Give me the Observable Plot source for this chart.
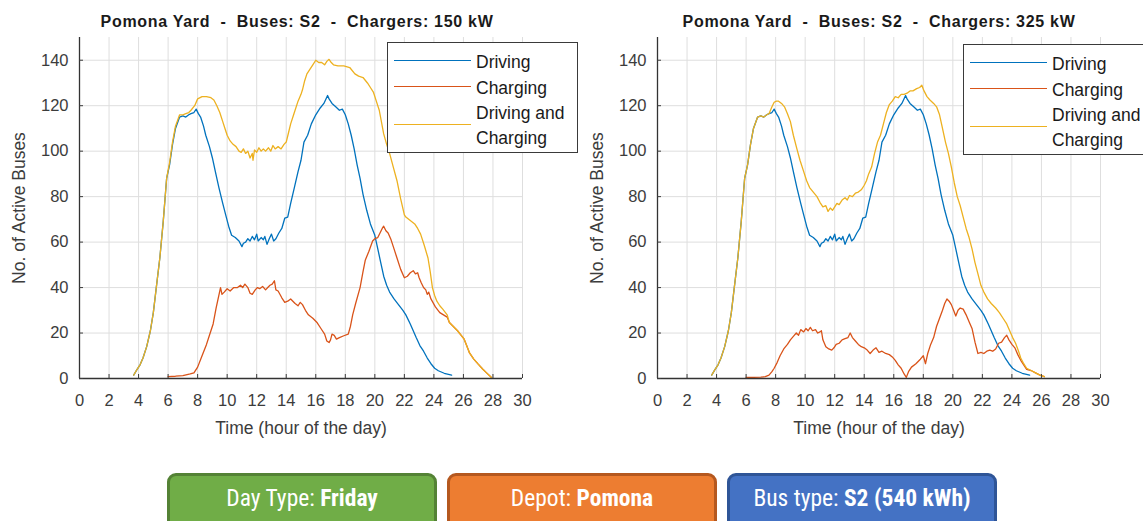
<!DOCTYPE html>
<html>
<head>
<meta charset="utf-8">
<script src="https://cdn.jsdelivr.net/npm/d3@7"></script>
<script src="https://cdn.jsdelivr.net/npm/@observablehq/plot@0.6"></script>
<style>
  html, body { margin: 0; padding: 0; background: #fff; }
  #root { position: relative; width: 1143px; height: 521px; overflow: hidden; font-family: "Liberation Sans", Arial, sans-serif; }
  .title { position: absolute; top: 12px; font-weight: bold; font-size: 16px; letter-spacing: 0.7px; color: #1a1a1a; white-space: pre; transform: translateX(-50%); line-height: 20px; }
  .chart { position: absolute; top: 30px; }
  .legend { position: absolute; background: #fff; border: 1.5px solid #3a3a3a; box-sizing: border-box; font-size: 17.5px; color: #1a1a1a; }
  .legend .sw { position: absolute; height: 0; border-top: 1.6px solid; }
  .legend .lab { position: absolute; line-height: 20px; white-space: nowrap; }
  .btn { position: absolute; top: 473px; width: 270px; height: 60px; border-radius: 9px; box-sizing: border-box; border: 3px solid; color: #fff;
         font-family: "Liberation Sans Narrow", "Roboto Condensed", "DejaVu Sans Condensed", "Roboto", sans-serif; font-stretch: condensed; font-size: 23.5px; text-align: center; line-height: 44px; }
  .btn b { font-weight: bold; }
</style>
</head>
<body>
<div id="root"></div>
<script>
// ---------------- data (hour of day, number of active buses) ----------------
const xTicks = [0,2,4,6,8,10,12,14,16,18,20,22,24,26,28,30];
const yTicks = [0,20,40,60,80,100,120,140];
const seriesNames = ["Driving", "Charging", "Driving and\nCharging"];
const seriesColors = ["#0072BD", "#D95319", "#EDB120"];
const titles = ["Pomona Yard  -  Buses: S2  -  Chargers: 150 kW", "Pomona Yard  -  Buses: S2  -  Chargers: 325 kW"];
const buttonLabels = [["Day Type: ", "Friday"], ["Depot: ", "Pomona"], ["Bus type: ", "S2 (540 kWh)"]];

// Driving (same schedule in both panels)
const driving = [
[3.67,1.5],[3.9,4],[4.1,6],[4.3,9],[4.55,14],[4.8,21],[5.0,29],[5.2,40],[5.44,53],[5.67,69],[5.9,88],[6.1,94],[6.3,103],[6.5,110],[6.78,115],
[7.0,115.5],[7.2,115],[7.4,116],[7.55,116.5],[7.75,117],[7.9,118.5],[8.05,116.5],[8.2,115],[8.4,111],[8.55,107],[8.8,102],[9.0,97],[9.2,91],
[9.44,84],[9.7,77],[9.9,72],[10.1,67],[10.3,63],[10.55,62],[10.8,60.5],[11.0,58],[11.1,59.5],[11.25,60],[11.4,61.5],[11.55,60.5],[11.7,62.5],
[11.85,61],[12.0,63.5],[12.1,60.5],[12.3,62],[12.45,61],[12.55,62.5],[12.7,59],[12.85,61.5],[13.0,63.5],[13.15,60.5],[13.3,61.5],[13.5,64],
[13.7,66],[13.9,70.5],[14.1,71],[14.3,77],[14.55,84],[14.8,91],[15.0,96],[15.2,104],[15.45,107],[15.7,112],[16.0,116],[16.3,119],[16.55,121],
[16.8,124.5],[16.9,123],[17.1,121],[17.35,119.5],[17.6,118],[17.8,118.5],[18.0,116],[18.2,112],[18.4,107],[18.6,101],[18.8,94],[19.0,88],
[19.2,81],[19.45,74],[19.7,68],[20.0,63],[20.2,57],[20.4,51],[20.6,45],[20.8,41],[21.0,38],[21.3,35],[21.6,32.5],[21.9,30],[22.1,28],[22.4,24],
[22.6,21],[22.8,18],[23.05,14.5],[23.3,12],[23.55,9],[23.8,6.5],[24.05,4.5],[24.3,3.4],[24.7,2.3],[25.2,1.5]
];

// Charging, 150 kW chargers
const charging150 = [
[6.0,0.8],[6.5,1],[7.0,1.3],[7.5,2],[7.75,2.5],[8.0,5],[8.3,10],[8.6,15],[8.8,19],[9.05,24],[9.25,31],[9.4,35.5],[9.55,40],[9.65,37],
[9.8,38],[10.0,39.5],[10.2,38.5],[10.45,40],[10.7,40],[10.9,41],[11.05,40],[11.2,41.5],[11.4,40],[11.55,37.5],[11.7,37],[11.9,39],[12.05,40],
[12.2,39.5],[12.4,40.5],[12.6,39],[12.75,40],[12.9,41],[13.05,41.5],[13.2,43],[13.3,39],[13.45,38.5],[13.7,35.5],[13.9,33.5],[14.1,34],
[14.3,35],[14.45,34],[14.6,33],[14.8,32],[14.95,33.5],[15.1,32.5],[15.3,30],[15.5,28],[15.8,26.5],[16.1,24.5],[16.35,22],[16.6,19.5],
[16.75,16.5],[16.9,15.8],[17.0,17],[17.1,19.5],[17.25,19],[17.4,17.3],[17.6,18],[17.9,18.8],[18.2,19.5],[18.35,23],[18.5,28],[18.7,33],
[19.0,40],[19.2,47],[19.35,52],[19.6,56],[19.85,60.5],[20.0,61.5],[20.2,62],[20.35,64],[20.5,66],[20.6,67],[20.75,65],[20.9,64],[21.1,61],
[21.3,57],[21.5,53],[21.75,48],[22.0,44.3],[22.2,45],[22.4,46.5],[22.6,47.4],[22.75,46],[22.9,46.5],[23.0,44.3],[23.15,42],[23.3,40],
[23.45,39],[23.55,37],[23.65,38],[23.8,35],[24.1,31.5],[24.4,29],[24.65,28],[24.9,27],[25.05,24.6],[25.3,23],[25.6,21],[25.85,19],
[26.05,17.3],[26.25,14],[26.4,11.4],[26.7,8.5],[27.0,6.3],[27.3,4.2],[27.55,2.6],[27.9,0.4]
];

// Driving and Charging, 150 kW chargers
const total150 = [
[3.67,1.5],[3.9,4],[4.1,6],[4.3,9],[4.55,14],[4.8,21],[5.0,29],[5.2,40],[5.44,53],[5.67,69],[5.9,88],[6.1,95],[6.3,104],[6.5,111],[6.78,116],
[7.0,116],[7.2,116.5],[7.4,117],[7.55,118],[7.8,120],[8.0,123],[8.3,124],[8.6,124],[8.9,123.5],[9.1,122.5],[9.3,120],[9.5,117],[9.7,113],
[9.85,110],[10.0,107],[10.2,104.5],[10.4,103],[10.6,102],[10.8,100],[10.95,99.5],[11.1,101],[11.25,99],[11.4,100],[11.55,97],[11.7,99],
[11.75,96],[11.85,100.5],[12.0,99.5],[12.15,101.5],[12.3,100],[12.45,101],[12.6,100],[12.8,101.5],[12.95,100],[13.1,102.5],[13.25,101],
[13.45,102],[13.65,101],[13.85,103],[14.0,104],[14.15,108],[14.3,112],[14.5,116],[14.8,122],[15.0,125],[15.1,127],[15.25,131],[15.4,134],
[15.6,136],[15.8,138],[16.0,140],[16.2,139],[16.4,139],[16.6,138],[16.75,139.5],[16.9,140.4],[17.05,139],[17.2,138],[17.5,137.5],
[17.9,137.5],[18.3,136.8],[18.65,134],[18.9,133],[19.2,132.4],[19.5,130],[19.7,128],[19.9,126],[20.1,122],[20.3,118],[20.6,107.6],
[20.8,103],[21.0,99],[21.25,93],[21.5,87],[21.75,79],[22.0,72],[22.1,71],[22.4,69.5],[22.7,68],[22.9,66],[23.1,63.5],[23.35,58.5],[23.6,53],
[23.75,47],[23.9,40],[24.05,36.5],[24.2,34],[24.4,32],[24.6,30.5],[24.9,28],[25.05,24.6],[25.3,23],[25.6,21],[25.85,19],[26.05,17.3],
[26.25,14],[26.4,11.4],[26.7,8.5],[27.0,6.3],[27.3,4.2],[27.55,2.6],[27.9,0.4]
];

// Charging, 325 kW chargers
const charging325 = [
[6.0,0.5],[6.5,0.5],[7.0,0.6],[7.3,0.8],[7.55,1.5],[7.75,3],[7.9,4.5],[8.1,7],[8.3,10],[8.55,13],[8.8,15],[9.0,17],[9.2,18.5],[9.4,20],
[9.55,19],[9.7,21.5],[9.9,20.5],[10.05,22],[10.2,21],[10.35,22.5],[10.5,21],[10.7,21.5],[10.85,20],[11.0,20.5],[11.1,21],[11.2,17],
[11.4,14],[11.6,13],[11.8,12.5],[11.95,13.5],[12.1,15],[12.3,15.5],[12.5,17],[12.7,17.5],[12.9,18],[13.05,20],[13.2,18],[13.4,16.5],
[13.6,15],[13.8,14],[14.0,13.5],[14.2,12.5],[14.4,11],[14.6,12.5],[14.8,13.5],[15.0,11.5],[15.2,12],[15.45,11],[15.7,10.5],[15.9,9.5],
[16.1,8],[16.3,6],[16.5,4.5],[16.7,2],[16.85,0.5],[17.0,3],[17.2,5],[17.5,6.5],[17.8,8.5],[18.0,10],[18.15,6.5],[18.3,11],[18.5,15],
[18.7,18],[18.9,23],[19.1,26.5],[19.3,30],[19.45,33],[19.6,35],[19.75,34],[19.9,32.5],[20.05,30],[20.2,27.5],[20.35,30],[20.5,31],
[20.7,30.5],[20.9,28],[21.1,25],[21.3,22],[21.5,16],[21.7,11],[21.9,11.5],[22.1,11],[22.3,12],[22.5,12.5],[22.7,12],[22.9,13],[23.1,15.5],
[23.3,16],[23.5,18],[23.65,19],[23.8,17],[24.0,15],[24.2,13.5],[24.4,10.5],[24.6,8],[24.8,6],[25.0,4],[25.3,3.5],[25.6,2.5],[25.9,1.5],[26.2,0.8]
];

// Driving and Charging, 325 kW chargers
const total325 = [
[3.67,1.5],[3.9,4],[4.1,6],[4.3,9],[4.55,14],[4.8,21],[5.0,29],[5.2,40],[5.44,53],[5.67,69],[5.9,88],[6.1,94],[6.3,103],[6.5,110],[6.78,115],
[7.0,115.5],[7.2,115],[7.4,116],[7.55,116.5],[7.75,119.5],[7.9,121.5],[8.05,122],[8.2,122],[8.4,121],[8.6,119.5],[8.8,116.5],[9.0,113],
[9.2,107],[9.44,101],[9.65,96],[9.9,91],[10.1,87],[10.3,84],[10.55,82],[10.8,80],[11.0,77.5],[11.2,75.5],[11.4,76],[11.55,73.5],[11.7,75],
[11.85,74],[12.0,75.5],[12.15,77],[12.3,76.5],[12.5,78.5],[12.7,79.5],[12.85,78.5],[13.0,80.5],[13.2,80],[13.4,81.5],[13.6,82],[13.8,83],
[14.0,85],[14.15,87],[14.3,90],[14.5,93],[14.7,99],[14.9,104],[15.1,107],[15.3,112],[15.5,117],[15.7,120.5],[15.9,122],[16.1,124],
[16.3,123.5],[16.5,125],[16.7,125],[16.9,125.5],[17.1,126.5],[17.3,126.5],[17.55,127.5],[17.75,128],[17.9,129],[18.05,126.5],[18.25,124],
[18.45,122.5],[18.7,121],[18.9,119.5],[19.1,116],[19.3,110],[19.5,104],[19.7,99],[19.9,93],[20.1,86],[20.3,80],[20.5,76],[20.7,71],
[20.9,66],[21.1,62],[21.3,57],[21.5,51],[21.7,46],[21.9,41],[22.1,38],[22.35,35],[22.6,33],[22.9,31],[23.15,29],[23.4,26.5],[23.65,24],
[23.85,21],[24.05,18],[24.25,15.5],[24.45,12],[24.6,9],[24.8,6.5],[25.0,4.5],[25.3,3.5],[25.6,2.5],[25.9,1.5],[26.2,0.8]
];

// ---------------- drawing ----------------
const root = document.getElementById("root");

function chart(charging, total) {
  const rows = [
    ...driving.map(([h, v]) => ({h, v, s: seriesNames[0]})),
    ...charging.map(([h, v]) => ({h, v, s: seriesNames[1]})),
    ...total.map(([h, v]) => ({h, v, s: seriesNames[2]}))
  ];
  return Plot.plot({
    width: 540, height: 420,
    marginLeft: 79, marginRight: 18, marginTop: 7, marginBottom: 72,
    style: {fontFamily: "Liberation Sans, Arial, sans-serif", fontSize: "16.5px", color: "#3c3c3c", background: "transparent"},
    x: {domain: [0, 30], ticks: xTicks},
    y: {domain: [0, 150], ticks: yTicks},
    color: {domain: seriesNames, range: seriesColors},
    marks: [
      Plot.gridX(xTicks, {stroke: "#dedede", strokeOpacity: 1}),
      Plot.gridY(yTicks, {stroke: "#dedede", strokeOpacity: 1}),
      Plot.line(rows, {x: "h", y: "v", z: "s", stroke: "s", strokeWidth: 1.3}),
      Plot.ruleY([0], {stroke: "#333", strokeWidth: 1.3}),
      Plot.ruleX([0], {stroke: "#333", strokeWidth: 1.3}),
      Plot.axisX(xTicks, {tickSize: -4, tickPadding: 19.5, fontSize: 16.5, label: null}),
      Plot.axisX({ticks: [], tickSize: 0, label: "Time (hour of the day)", labelAnchor: "center", labelOffset: 55, labelArrow: "none", fontSize: 17.5}),
      Plot.axisY(yTicks, {tickSize: -4, tickPadding: 15, fontSize: 16.5, label: null}),
      Plot.axisY({ticks: [], tickSize: 0, label: "No. of Active Buses", labelAnchor: "center", labelOffset: 67, labelArrow: "none", fontSize: 17.5})
    ]
  });
}

function legend(left, top, width) {
  const lg = document.createElement("div");
  lg.className = "legend";
  Object.assign(lg.style, {left: left + "px", top: top + "px", width: width + "px", height: "111px"});
  const lineY = [17.3, 43.3, 81.3];
  const textY = [[19], [44.5], [69.8, 94.7]];
  seriesNames.forEach((name, i) => {
    const sw = document.createElement("div");
    sw.className = "sw";
    Object.assign(sw.style, {left: "6px", width: "77px", top: lineY[i] + "px", borderTopColor: seriesColors[i]});
    lg.appendChild(sw);
    name.split("\n").forEach((p, j) => {
      const t = document.createElement("div");
      t.className = "lab";
      t.textContent = p;
      Object.assign(t.style, {left: "88px", top: (textY[i][j] - 10) + "px"});
      lg.appendChild(t);
    });
  });
  return lg;
}

[[0, charging150, total150, 297, 387, 191, 42], [578, charging325, total325, 879, 963, 192, 44]].forEach(([left, ch, tot, tx, lx, lw, ly], i) => {
  const t = document.createElement("div");
  t.className = "title";
  t.textContent = titles[i];
  t.style.left = tx + "px";
  root.appendChild(t);
  const c = document.createElement("div");
  c.className = "chart";
  c.style.left = left + "px";
  c.appendChild(chart(ch, tot));
  root.appendChild(c);
  root.appendChild(legend(lx, ly, lw));
});

const btnStyles = [["#70AD47", "#548235", 167], ["#ED7D31", "#B5581F", 447], ["#4472C4", "#2F5597", 727]];
buttonLabels.forEach(([a, b], i) => {
  const d = document.createElement("div");
  d.className = "btn";
  Object.assign(d.style, {left: btnStyles[i][2] + "px", background: btnStyles[i][0], borderColor: btnStyles[i][1]});
  d.appendChild(document.createTextNode(a));
  const bb = document.createElement("b");
  bb.textContent = b;
  d.appendChild(bb);
  root.appendChild(d);
});
</script>
</body>
</html>
